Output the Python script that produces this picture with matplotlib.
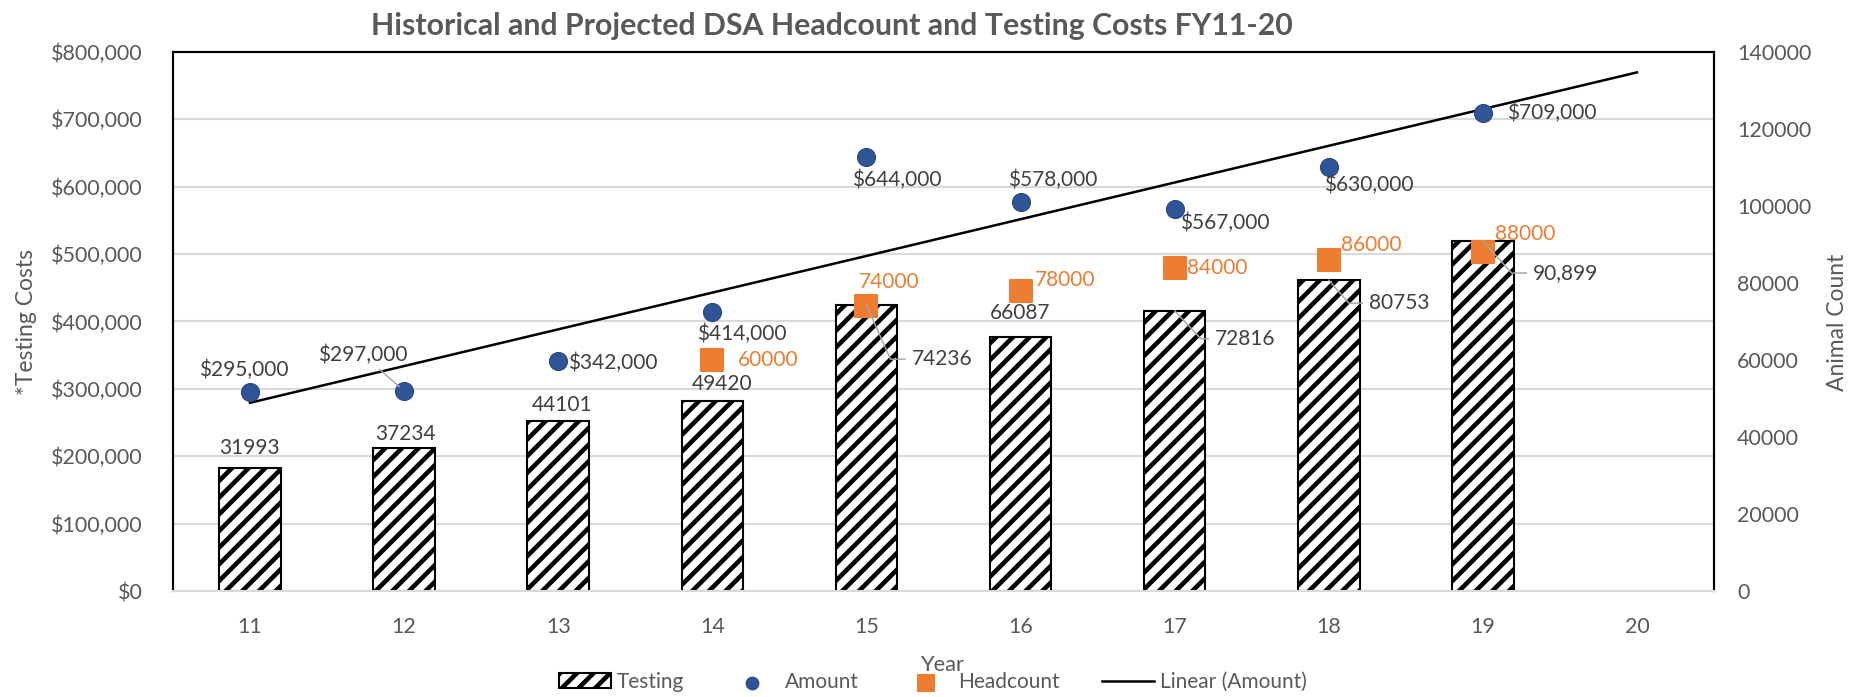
import matplotlib
matplotlib.use('Agg')
import matplotlib.pyplot as plt
from matplotlib.ticker import FuncFormatter, MultipleLocator
import numpy as np

plt.rcParams['font.family'] = ['Lato', 'DejaVu Sans']
plt.rcParams['hatch.linewidth'] = 2.2

# data ------------------------------------------------------------------------
years = ['11', '12', '13', '14', '15', '16', '17', '18', '19', '20']
amount = [295000, 297000, 342000, 414000, 644000, 578000, 567000, 630000, 709000]
headcount_years = ['14', '15', '16', '17', '18', '19']
headcount = [60000, 74000, 78000, 84000, 86000, 88000]
testing = [31993, 37234, 44101, 49420, 74236, 66087, 72816, 80753, 90899]
testing_labels = ['31993', '37234', '44101', '49420', '74236', '66087', '72816', '80753', '90,899']

# label placement (pixel offsets from the mark), text anchored left/center
amount_off = [(-51, 22), (-86, 36), (10, -2), (-15, -22), (-14, -23),
              (-13, 22), (5, -14), (-5, -18), (24, 0)]
head_off = [(26, 0), (-8, 24), (14, 11), (12, 0), (12, 15), (12, 18)]
test_off = [(-31, 20), (-29, 14), (-26, 16), (-21, 17), (45, -54),
            (-31, 24), (40, -28), (40, -23), (50, -32)]
test_leader = [None, None, None, None, -66, None, -47, -49, -48]

GRAY = '#595959'
LABEL = '#404040'
BLUE = '#2F5597'
ORANGE = '#ED7D31'

DPI = 150
W, H = 1852, 697
fig = plt.figure(figsize=(W / DPI, H / DPI), dpi=DPI)
L, R, T, B = 173, 1714, 52, 591
ax = fig.add_axes([L / W, 1 - B / H, (R - L) / W, (B - T) / H])
ax2 = ax.twinx()

x = np.arange(len(years))
xa = np.arange(len(amount))
xh = np.array([years.index(y) for y in headcount_years])

# bars on the count axis
bars = ax2.bar(xa, testing, width=0.4, color='white', edgecolor='black',
               hatch='///', linewidth=1.0, zorder=2, label='Testing')

# amount dots + linear trend on the cost axis
dots = ax.scatter(xa, amount, s=8.6 ** 2, color=BLUE, edgecolor='#2A4C86',
                  linewidth=0.6, zorder=4, label='Amount')
coef = np.polyfit(xa, amount, 1)
xt = np.array([0, len(years) - 1])
trend, = ax.plot(xt, np.polyval(coef, xt), color='black', lw=1.2, zorder=3,
                 label='Linear (Amount)')

squares = ax2.scatter(xh, headcount, marker='s', s=10.5 ** 2, color=ORANGE,
                      zorder=4, label='Headcount')

# axes styling
ax.set_xlim(-0.5, len(years) - 0.5)
ax.set_ylim(0, 800000)
ax2.set_ylim(0, 140000)
ax.yaxis.set_major_locator(MultipleLocator(100000))
ax2.yaxis.set_major_locator(MultipleLocator(20000))
ax.yaxis.set_major_formatter(FuncFormatter(lambda v, p: f'${v:,.0f}'))
ax2.yaxis.set_major_formatter(FuncFormatter(lambda v, p: f'{v:.0f}'))
ax.set_xticks(x)
ax.set_xticklabels(years)
ax.grid(axis='y', color='#D9D9D9', lw=1.0)
ax.set_axisbelow(True)
ax.tick_params(axis='y', length=0, colors=GRAY, labelsize=10.3, pad=14.4)
ax.tick_params(axis='x', length=0, colors=GRAY, labelsize=10.3, pad=12.5)
ax2.tick_params(axis='y', length=0, colors=GRAY, labelsize=10.3, pad=11)
for a in (ax, ax2):
    for s in ('top', 'left', 'right'):
        a.spines[s].set_color('black')
        a.spines[s].set_linewidth(1.0)
    a.spines['bottom'].set_color('#D9D9D9')
    a.spines['bottom'].set_linewidth(1.0)

# data labels
for i, v in enumerate(amount):
    dx, dy = amount_off[i]
    arrow = None
    if i == 1:
        arrow = dict(arrowstyle='-', color='#A6A6A6', lw=0.7, shrinkA=0, shrinkB=3)
    ax.annotate(f'${v:,.0f}', (xa[i], v), xytext=(dx, dy), textcoords='offset pixels',
                ha='left', va='center', fontsize=10, color=LABEL, zorder=6,
                arrowprops=arrow)

for i, v in enumerate(headcount):
    dx, dy = head_off[i]
    ax2.annotate(str(v), (xh[i], v), xytext=(dx, dy), textcoords='offset pixels',
                 ha='left', va='center', fontsize=10, color=ORANGE, zorder=6)

for i, v in enumerate(testing):
    dx, dy = test_off[i]
    arrow = None
    if test_leader[i] is not None:
        arrow = dict(arrowstyle='-', color='#A6A6A6', lw=0.7, relpos=(0, 0.5),
                     shrinkA=3, shrinkB=0, patchA=None,
                     connectionstyle=f'angle,angleA=180,angleB={test_leader[i]},rad=0')
    ax2.annotate(testing_labels[i], (xa[i], v), xytext=(dx, dy), textcoords='offset pixels',
                 ha='left', va='center', fontsize=10, color=LABEL, zorder=6,
                 arrowprops=arrow)

# titles
fig.text(832 / W, 1 - 26 / H, 'Historical and Projected DSA Headcount and Testing Costs FY11-20',
         ha='center', va='center', fontsize=14.5, fontweight='bold', color=GRAY)
fig.text(27 / W, 1 - 322 / H, '*Testing Costs', rotation=90, ha='center', va='center',
         fontsize=11, color=GRAY)
fig.text(1838 / W, 1 - 322 / H, 'Animal Count', rotation=90, ha='center', va='center',
         fontsize=11, color=GRAY)
fig.text(943 / W, 1 - 665 / H, 'Year', ha='center', va='center', fontsize=10.5, color=GRAY)

fig.legend([bars, dots, squares, trend], ['Testing', 'Amount', 'Headcount', 'Linear (Amount)'],
           loc='center', bbox_to_anchor=(933 / W, 1 - 682 / H), ncol=4, frameon=False,
           fontsize=10, handlelength=2.5, handletextpad=0.3, columnspacing=2.0,
           markerscale=0.7, labelcolor=GRAY)

fig.savefig('out.png', dpi=DPI)
